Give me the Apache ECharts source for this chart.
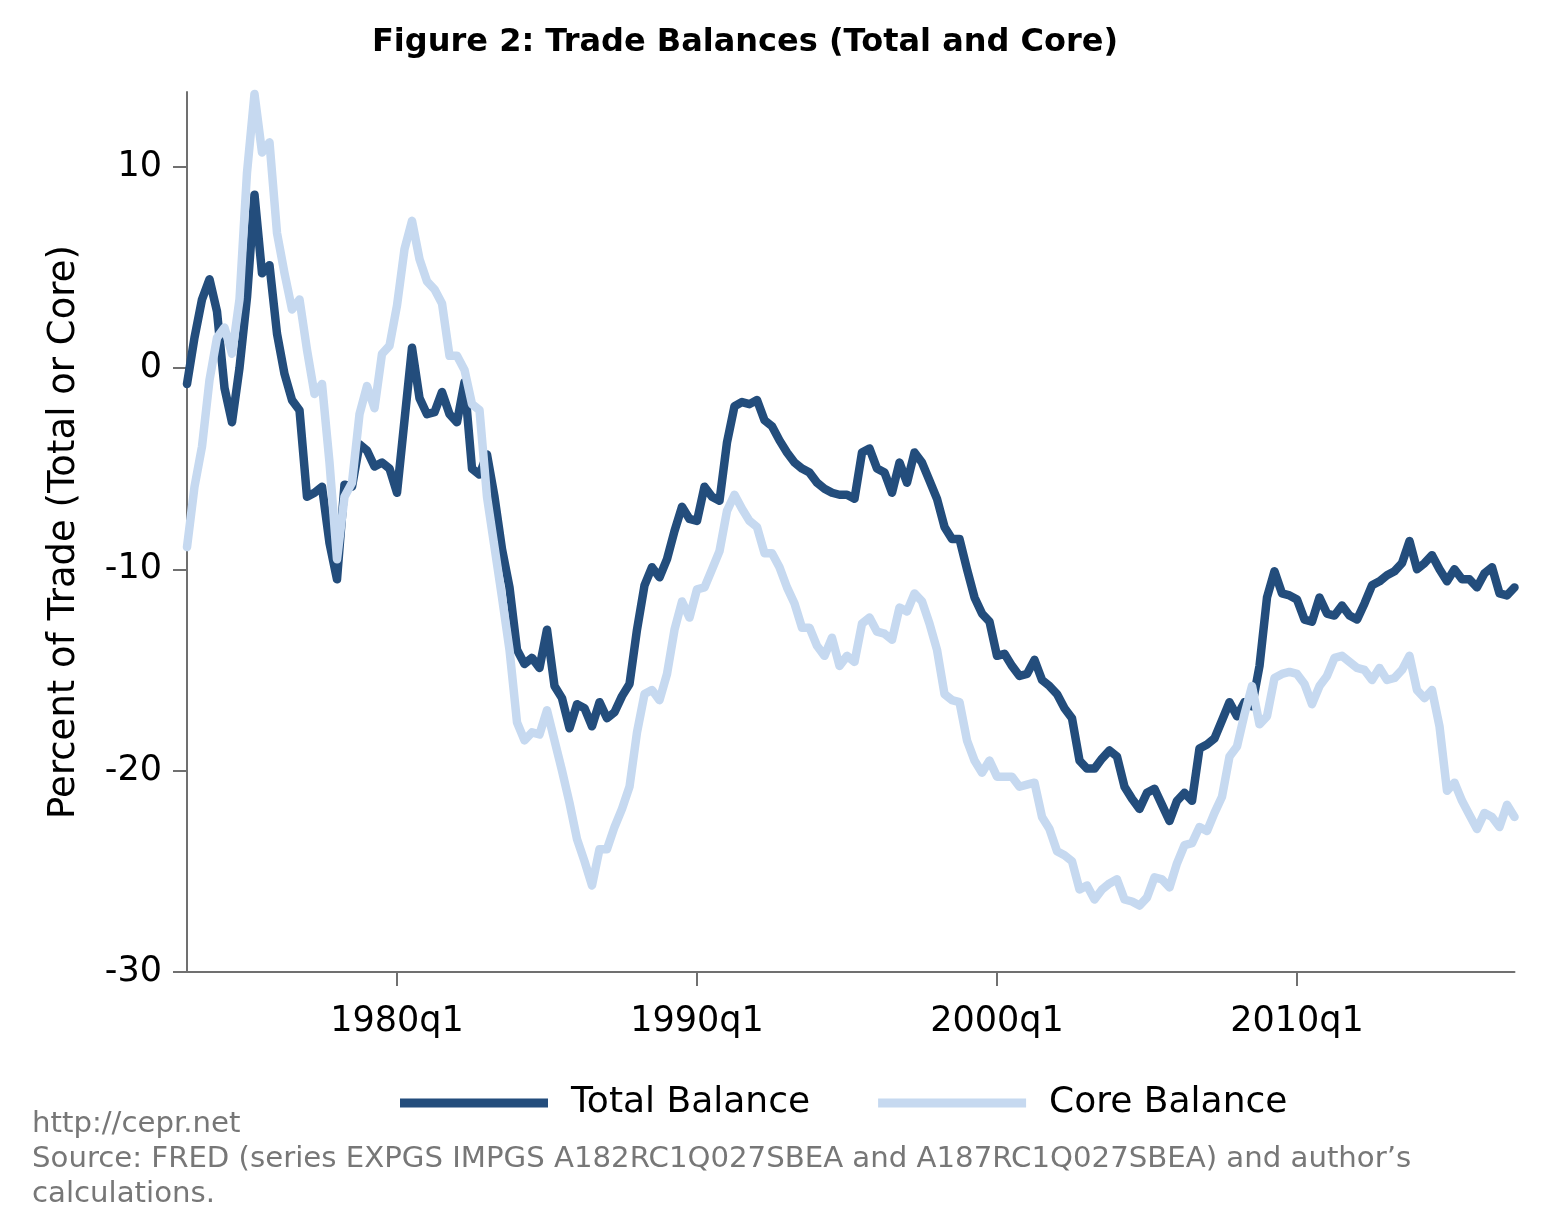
<!DOCTYPE html>
<html>
<head>
<meta charset="utf-8">
<script src="https://cdn.jsdelivr.net/npm/echarts@6/dist/echarts.min.js"></script>
<style>
html,body{margin:0;padding:0;background:#fff;}
#chart{width:1560px;height:1216px;}
</style>
</head>
<body>
<div id="chart"></div>
<script>
// Quarterly categories 1973q1 .. 2017q2
const startYear = 1973;
const nQuarters = 178;
const quarters = [];
for (let k = 0; k < nQuarters; k++) {
  quarters.push((startYear + Math.floor(k / 4)) + 'q' + (k % 4 + 1));
}
const xTickLabels = ['1980q1', '1990q1', '2000q1', '2010q1'];
const yTickValues = [-30, -20, -10, 0, 10];

const totalBalance = [
  -0.8, 1.5, 3.4, 4.4, 2.8, -1.0, -2.7, 0.0, 3.5, 8.6,
  4.7, 5.1, 1.7, -0.3, -1.6, -2.1, -6.4, -6.2, -5.9, -8.7,
  -10.5, -5.8, -5.9, -3.8, -4.1, -4.9, -4.7, -5.0, -6.2, -2.6,
  1.0, -1.5, -2.3, -2.2, -1.2, -2.3, -2.7, -0.7, -5.0, -5.3,
  -4.3, -6.4, -9.0, -10.9, -14.0, -14.7, -14.4, -14.9, -13.0, -15.8,
  -16.4, -17.9, -16.7, -16.9, -17.8, -16.6, -17.4, -17.1, -16.3, -15.7,
  -13.0, -10.8, -9.9, -10.4, -9.5, -8.1, -6.9, -7.5, -7.6, -5.9,
  -6.4, -6.6, -3.7, -1.9, -1.7, -1.8, -1.6, -2.6, -2.9, -3.6,
  -4.2, -4.7, -5.0, -5.2, -5.7, -6.0, -6.2, -6.3, -6.3, -6.5,
  -4.2, -4.0, -5.0, -5.2, -6.2, -4.7, -5.7, -4.2, -4.7, -5.6,
  -6.5, -7.9, -8.5, -8.5, -10.0, -11.4, -12.2, -12.6, -14.3, -14.2,
  -14.8, -15.3, -15.2, -14.5, -15.5, -15.8, -16.2, -16.9, -17.4, -19.5,
  -19.9, -19.9, -19.4, -19.0, -19.3, -20.8, -21.4, -21.9, -21.1, -20.9,
  -21.7, -22.5, -21.5, -21.1, -21.5, -18.9, -18.7, -18.4, -17.5, -16.6,
  -17.3, -16.6, -16.8, -14.8, -11.4, -10.1, -11.2, -11.3, -11.5, -12.5,
  -12.6, -11.4, -12.2, -12.3, -11.8, -12.3, -12.5, -11.7, -10.8, -10.6,
  -10.3, -10.1, -9.7, -8.6, -10.0, -9.7, -9.3, -10.0, -10.6, -10.0,
  -10.5, -10.5, -10.9, -10.2, -9.9, -11.2, -11.3, -10.9
];

const coreBalance = [
  -8.9, -5.9, -3.9, -0.6, 1.5, 2.0, 0.7, 3.4, 9.7, 13.6,
  10.7, 11.2, 6.7, 4.7, 2.9, 3.4, 0.9, -1.3, -0.8, -4.7,
  -9.5, -6.4, -5.7, -2.3, -0.9, -2.0, 0.7, 1.1, 3.1, 5.9,
  7.3, 5.4, 4.3, 3.9, 3.2, 0.6, 0.6, -0.1, -1.8, -2.1,
  -6.4, -8.9, -11.4, -14.0, -17.6, -18.5, -18.1, -18.2, -17.0, -18.5,
  -20.0, -21.6, -23.4, -24.5, -25.7, -23.9, -23.9, -22.8, -21.9, -20.8,
  -18.1, -16.2, -16.0, -16.5, -15.2, -13.0, -11.6, -12.4, -11.0, -10.9,
  -10.0, -9.1, -7.1, -6.3, -7.0, -7.6, -7.9, -9.2, -9.2, -9.9,
  -10.9, -11.7, -12.9, -12.9, -13.8, -14.3, -13.4, -14.8, -14.3, -14.6,
  -12.7, -12.4, -13.1, -13.2, -13.5, -11.9, -12.1, -11.2, -11.6, -12.7,
  -14.0, -16.2, -16.5, -16.6, -18.5, -19.5, -20.1, -19.5, -20.3, -20.3,
  -20.3, -20.8, -20.7, -20.6, -22.3, -22.9, -24.0, -24.2, -24.5, -25.9,
  -25.7, -26.4, -25.9, -25.6, -25.4, -26.4, -26.5, -26.7, -26.3, -25.3,
  -25.4, -25.8, -24.6, -23.7, -23.6, -22.8, -23.0, -22.1, -21.3, -19.3,
  -18.8, -17.2, -15.8, -17.7, -17.3, -15.4, -15.2, -15.1, -15.2, -15.7,
  -16.7, -15.8, -15.3, -14.4, -14.3, -14.6, -14.9, -15.0, -15.5, -14.9,
  -15.5, -15.4, -15.0, -14.3, -16.0, -16.4, -16.0, -17.8, -21.0, -20.6,
  -21.5, -22.2, -22.9, -22.1, -22.3, -22.8, -21.7, -22.3
];

const FONT = 'DejaVu Sans';
const AXIS_GRAY = '#707070';
const chart = echarts.init(document.getElementById('chart'), null, {renderer: 'canvas'});
const isTick = (idx, val) => xTickLabels.indexOf(val) >= 0;

chart.setOption({
  animation: false,
  backgroundColor: '#ffffff',
  title: [
    {
      text: 'Figure 2: Trade Balances (Total and Core)',
      left: 372, top: 27, padding: 0,
      textStyle: {fontFamily: FONT, fontSize: 32, fontWeight: 'bold', color: '#000'}
    },
    {
      text: 'http://cepr.net\nSource: FRED (series EXPGS IMPGS A182RC1Q027SBEA and A187RC1Q027SBEA) and author\u2019s\ncalculations.',
      left: 32, top: 1107, padding: 0,
      textStyle: {fontFamily: FONT, fontSize: 29.2, fontWeight: 'normal', color: '#777777', lineHeight: 35}
    }
  ],
  legend: {
    left: 400, top: 1085, padding: 0,
    icon: 'rect',
    itemWidth: 148, itemHeight: 9, itemGap: 68,
    textStyle: {fontFamily: FONT, fontSize: 36, color: '#000', padding: [0, 0, 0, 18]},
    data: ['Total Balance', 'Core Balance']
  },
  grid: {left: 187, right: 45.5, top: 92, bottom: 244, containLabel: false},
  xAxis: {
    type: 'category',
    data: quarters,
    boundaryGap: false,
    axisLine: {onZero: false, lineStyle: {color: AXIS_GRAY, width: 2}},
    axisTick: {show: true, interval: isTick, length: 14, lineStyle: {color: AXIS_GRAY, width: 2}},
    axisLabel: {interval: isTick, margin: 32, fontFamily: FONT, fontSize: 35, color: '#000'},
    splitLine: {show: false}
  },
  yAxis: {
    type: 'value',
    min: -30, max: 13.7,
    name: 'Percent of Trade (Total or Core)',
    nameLocation: 'middle',
    nameGap: 104,
    nameTextStyle: {fontFamily: FONT, fontSize: 37, color: '#000'},
    axisLine: {show: true, onZero: false, lineStyle: {color: AXIS_GRAY, width: 2}},
    axisTick: {show: true, length: 14, customValues: yTickValues, lineStyle: {color: AXIS_GRAY, width: 2}},
    axisLabel: {customValues: yTickValues, margin: 25, padding: [11, 0, 0, 0], fontFamily: FONT, fontSize: 35, color: '#000'},
    splitLine: {show: false}
  },
  series: [
    {
      name: 'Total Balance', type: 'line', data: totalBalance,
      showSymbol: false, symbol: 'none',
      lineStyle: {color: '#234d7c', width: 8.5, cap: 'round', join: 'round'},
      itemStyle: {color: '#234d7c'}
    },
    {
      name: 'Core Balance', type: 'line', data: coreBalance,
      showSymbol: false, symbol: 'none',
      lineStyle: {color: '#c6d9f0', width: 8.5, cap: 'round', join: 'round'},
      itemStyle: {color: '#c6d9f0'}
    }
  ]
});
</script>
</body>
</html>
